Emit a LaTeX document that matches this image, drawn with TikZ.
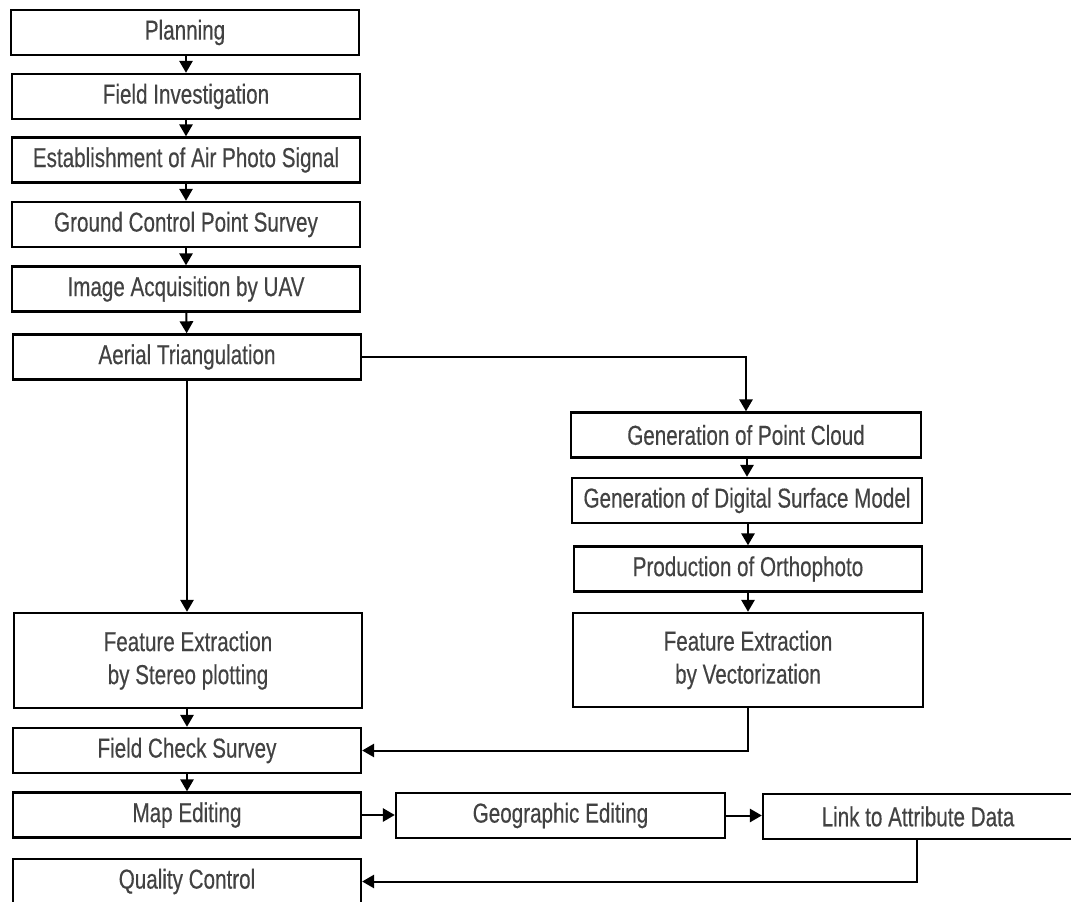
\documentclass[tikz,border=0pt]{standalone}
\usepackage{fontspec}
\setmainfont[FakeStretch=0.755,FakeBold=0.4]{Liberation Sans}
\usetikzlibrary{arrows.meta}
\definecolor{txtgray}{RGB}{66,66,66}

\tikzset{every picture/.style={line width=0.75pt}}
\tikzset{
  stepbox/.style={draw, line width=1.8pt, minimum width=261pt, minimum height=33.75pt, inner sep=0pt,
    text=txtgray, font=\fontsize{20.5}{24.75}\selectfont, align=center},
  flowline/.style={line width=1.5pt},
  flowarrow/.style={flowline, -{Triangle[length=9pt,width=10pt]}}
}

\begin{document}
\begin{tikzpicture}[x=0.75pt,y=0.75pt,yscale=-1,xscale=1]
\path[use as bounding box, clip] (0,0) rectangle (1071,902); %set diagram to 1071 x 902

%Left column
\node [stepbox] (plan)   at (185,32.5)  {Planning};
\node [stepbox] (field)  at (186,96.5)  {Field Investigation};
\node [stepbox] (signal) at (186,160)   {Establishment of Air Photo Signal};
\node [stepbox] (gcp)    at (186,224.5) {Ground Control Point Survey};
\node [stepbox] (uav)    at (186,289)   {Image Acquisition by UAV};
\node [stepbox] (aerial) at (187,357)   {Aerial Triangulation};

%Right column
\node [stepbox, minimum width=262.5pt] (cloud)  at (746,435)   {Generation of Point Cloud};
\node [stepbox, minimum width=262.5pt] (dsm)    at (747,500.5) {Generation of Digital Surface Model};
\node [stepbox, minimum width=261pt]   (ortho)  at (748,569)   {Production of Orthophoto};
\node [stepbox, minimum width=262.5pt, minimum height=70.5pt] (vector) at (748,660) {Feature Extraction\\by Vectorization};

%Lower part
\node [stepbox, minimum height=71.25pt] (stereo) at (188,660.5) {Feature Extraction\\by Stereo plotting};
\node [stepbox] (check)   at (187,750.5) {Field Check Survey};
\node [stepbox] (mapedit) at (187,815)   {Map Editing};
\node [stepbox, minimum width=246.75pt] (geoedit) at (560.5,815.5) {Geographic Editing};
\node [stepbox, minimum width=232.5pt]  (link)    at (918,816.5)   {Link to Attribute Data};
\node [stepbox] (qc)      at (187,881.5) {Quality Control};

%Straight Lines
\draw [flowarrow] (plan.south -| field.north) -- (field.north);
\draw [flowarrow] (field) -- (signal);
\draw [flowarrow] (signal) -- (gcp);
\draw [flowarrow] (gcp) -- (uav);
\draw [flowarrow] (uav) -- (aerial);
\draw [flowarrow] (aerial.east) -| (cloud.north);
\draw [flowarrow] (aerial.south) -- (aerial.south |- stereo.north);
\draw [flowarrow] (cloud.south -| dsm.north) -- (dsm.north);
\draw [flowarrow] (dsm.south -| ortho.north) -- (ortho.north);
\draw [flowarrow] (ortho) -- (vector);
\draw [flowarrow] (stereo.south -| check.north) -- (check.north);
\draw [flowarrow] (vector.south) |- (check.east);
\draw [flowarrow] (check) -- (mapedit);
\draw [flowarrow] (mapedit) -- (mapedit.east -| geoedit.west);
\draw [flowarrow] (geoedit.east) -- (geoedit.east -| link.west);
\draw [flowarrow] (link.south -| 917,0) |- (qc.east);

\end{tikzpicture}
\end{document}
